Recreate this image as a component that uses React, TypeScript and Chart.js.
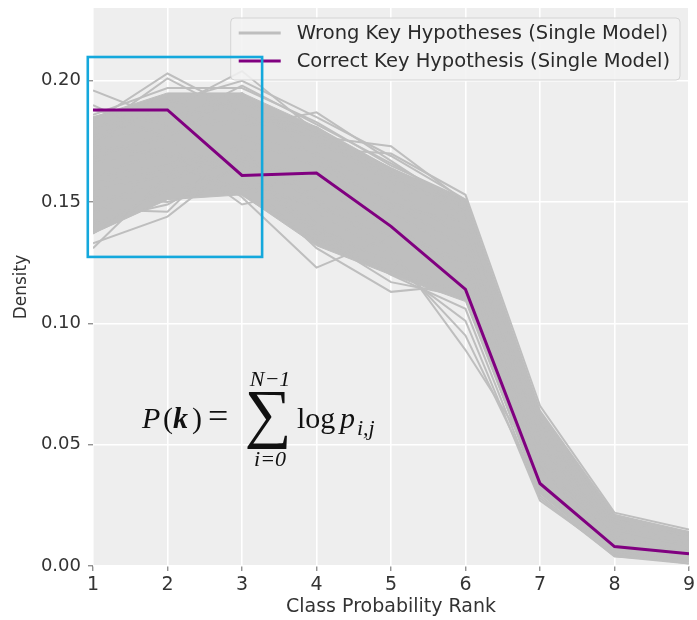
import React, { useEffect, useRef } from "react";
import { Chart, registerables } from "chart.js";

Chart.register(...registerables);

// ---------- data ----------
const ranks = [1, 2, 3, 4, 5, 6, 7, 8, 9];
const yTicks = [0, 0.05, 0.1, 0.15, 0.2];
const xTitle = "Class Probability Rank";
const yTitle = "Density";
const legendLabels = [
  "Wrong Key Hypotheses (Single Model)",
  "Correct Key Hypothesis (Single Model)",
];

const correctKey = [0.188, 0.188, 0.161, 0.162, 0.14, 0.114, 0.034, 0.008, 0.005];

// dense core of the wrong-key bundle
const bandUpper = [0.185, 0.195, 0.195, 0.181, 0.164, 0.151, 0.063, 0.021, 0.014];
const bandLower = [0.137, 0.151, 0.153, 0.132, 0.12, 0.109, 0.03, 0.004, 0.002];

// individual wrong-key hypotheses
const w01 = [0.196, 0.184, 0.191, 0.178, 0.16, 0.146, 0.055, 0.018, 0.011];
const w02 = [0.183, 0.203, 0.187, 0.176, 0.158, 0.141, 0.05, 0.015, 0.008];
const w03 = [0.179, 0.201, 0.185, 0.181, 0.161, 0.148, 0.058, 0.02, 0.012];
const w04 = [0.177, 0.188, 0.204, 0.179, 0.164, 0.149, 0.06, 0.019, 0.011];
const w05 = [0.174, 0.191, 0.2, 0.185, 0.169, 0.151, 0.062, 0.021, 0.013];
const w06 = [0.147, 0.146, 0.176, 0.165, 0.15, 0.131, 0.045, 0.012, 0.006];
const w07 = [0.131, 0.161, 0.171, 0.151, 0.139, 0.125, 0.04, 0.01, 0.005];
const w08 = [0.133, 0.144, 0.168, 0.16, 0.146, 0.128, 0.042, 0.011, 0.005];
const w09 = [0.161, 0.171, 0.149, 0.156, 0.141, 0.121, 0.036, 0.008, 0.004];
const w10 = [0.166, 0.173, 0.152, 0.123, 0.136, 0.118, 0.033, 0.007, 0.003];
const w11 = [0.171, 0.176, 0.16, 0.131, 0.113, 0.116, 0.032, 0.006, 0.003];
const w12 = [0.173, 0.169, 0.163, 0.136, 0.117, 0.111, 0.03, 0.005, 0.002];
const w13 = [0.176, 0.181, 0.181, 0.187, 0.167, 0.147, 0.057, 0.019, 0.012];
const w14 = [0.168, 0.179, 0.184, 0.177, 0.173, 0.15, 0.063, 0.02, 0.013];
const w15 = [0.16, 0.166, 0.171, 0.172, 0.17, 0.153, 0.066, 0.022, 0.015];
const w16 = [0.155, 0.161, 0.166, 0.15, 0.131, 0.089, 0.041, 0.01, 0.004];
const w17 = [0.158, 0.163, 0.169, 0.146, 0.128, 0.095, 0.031, 0.006, 0.002];
const w18 = [0.15, 0.158, 0.172, 0.141, 0.124, 0.101, 0.027, 0.005, 0.001];
const w19 = [0.14, 0.155, 0.163, 0.138, 0.12, 0.106, 0.028, 0.004, 0.002];
const w20 = [0.185, 0.193, 0.178, 0.17, 0.155, 0.135, 0.048, 0.014, 0.009];
const w21 = [0.145, 0.166, 0.155, 0.16, 0.151, 0.138, 0.052, 0.016, 0.01];
const w22 = [0.19, 0.176, 0.195, 0.168, 0.148, 0.142, 0.054, 0.017, 0.012];
const w23 = [0.152, 0.15, 0.158, 0.148, 0.136, 0.125, 0.044, 0.012, 0.006];
const w24 = [0.186, 0.197, 0.197, 0.183, 0.165, 0.151, 0.064, 0.021, 0.014];
const w25 = [0.137, 0.157, 0.153, 0.134, 0.122, 0.112, 0.029, 0.004, 0.001];
const w26 = [0.181, 0.186, 0.192, 0.174, 0.162, 0.144, 0.059, 0.018, 0.014];
const w27 = [0.188, 0.182, 0.198, 0.182, 0.166, 0.149, 0.061, 0.02, 0.013];
const w28 = [0.142, 0.149, 0.166, 0.139, 0.125, 0.113, 0.035, 0.006, 0.003];

const wrongKeys = [
  w01, w02, w03, w04, w05, w06, w07, w08, w09, w10, w11, w12, w13, w14,
  w15, w16, w17, w18, w19, w20, w21, w22, w23, w24, w25, w26, w27, w28,
];

// highlighted region (data coordinates)
const focusX = [0.93, 3.27];
const focusY = [0.1274, 0.2098];

const WRONG = "#bebebe";
const RIGHT = "#800080";
const BG = "#eeeeee";
const SERIF = '"Liberation Serif"';

const toXY = (vals: number[]) => vals.map((v, i) => ({ x: ranks[i], y: v }));

const bgPlugin = {
  id: "plotBg",
  beforeDraw(chart: any) {
    const { ctx, chartArea: a } = chart;
    ctx.save();
    ctx.fillStyle = "#ffffff";
    ctx.fillRect(0, 0, chart.width, chart.height);
    ctx.fillStyle = BG;
    ctx.fillRect(a.left, a.top, a.right - a.left, a.bottom - a.top);
    ctx.restore();
  },
};

const overlayPlugin = {
  id: "overlay",
  afterDraw(chart: any) {
    const { ctx, chartArea: a } = chart;
    const xs = chart.scales.x;
    const ys = chart.scales.y;
    ctx.save();

    // legend
    ctx.font = '19.5px "DejaVu Sans"';
    const textW = Math.max(...legendLabels.map((t) => ctx.measureText(t).width));
    const sampleLen = 42;
    const padL = 8;
    const gap = 16;
    const padR = 10;
    const boxW = padL + sampleLen + gap + textW + padR;
    const boxH = 62;
    const boxRight = a.right - 9;
    const boxTop = a.top + 10;
    const boxLeft = boxRight - boxW;
    ctx.beginPath();
    const r = 4;
    ctx.moveTo(boxLeft + r, boxTop);
    ctx.lineTo(boxRight - r, boxTop);
    ctx.quadraticCurveTo(boxRight, boxTop, boxRight, boxTop + r);
    ctx.lineTo(boxRight, boxTop + boxH - r);
    ctx.quadraticCurveTo(boxRight, boxTop + boxH, boxRight - r, boxTop + boxH);
    ctx.lineTo(boxLeft + r, boxTop + boxH);
    ctx.quadraticCurveTo(boxLeft, boxTop + boxH, boxLeft, boxTop + boxH - r);
    ctx.lineTo(boxLeft, boxTop + r);
    ctx.quadraticCurveTo(boxLeft, boxTop, boxLeft + r, boxTop);
    ctx.closePath();
    ctx.fillStyle = "rgba(242,242,242,0.85)";
    ctx.fill();
    ctx.strokeStyle = "#d4d4d4";
    ctx.lineWidth = 1;
    ctx.stroke();

    const rows = [boxTop + 15, boxTop + 43];
    const colors = [WRONG, RIGHT];
    rows.forEach((yy, i) => {
      ctx.strokeStyle = colors[i];
      ctx.lineWidth = 3;
      ctx.beginPath();
      ctx.moveTo(boxLeft + padL, yy);
      ctx.lineTo(boxLeft + padL + sampleLen, yy);
      ctx.stroke();
      ctx.fillStyle = "#2a2a2a";
      ctx.textBaseline = "middle";
      ctx.textAlign = "left";
      ctx.fillText(legendLabels[i], boxLeft + padL + sampleLen + gap, yy + 1);
    });

    // highlight box
    const bx0 = xs.getPixelForValue(focusX[0]);
    const bx1 = xs.getPixelForValue(focusX[1]);
    const by0 = ys.getPixelForValue(focusY[1]);
    const by1 = ys.getPixelForValue(focusY[0]);
    ctx.strokeStyle = "#14a8dc";
    ctx.lineWidth = 2.6;
    ctx.strokeRect(bx0, by0, bx1 - bx0, by1 - by0);

    // formula
    ctx.fillStyle = "#111111";
    ctx.textBaseline = "alphabetic";
    ctx.textAlign = "left";
    const base = 428;
    const fs = 30;
    const put = (t: string, f: string, x: number, y: number) => {
      ctx.font = f;
      ctx.fillText(t, x, y);
    };
    put("P", `italic ${fs}px ${SERIF}`, 142, base);
    put("(", `${fs}px ${SERIF}`, 163, base);
    put("k", `bold italic ${fs}px ${SERIF}`, 173, base);
    put(")", `${fs}px ${SERIF}`, 192, base);
    put("=", `${fs + 6}px ${SERIF}`, 208, base);

    ctx.textAlign = "center";
    put("\u2211", `66px ${SERIF}`, 268, 435);
    put("N\u22121", `italic 22px ${SERIF}`, 270, 386);
    put("i=0", `italic 22px ${SERIF}`, 270, 466);

    ctx.textAlign = "left";
    put("log", `${fs}px ${SERIF}`, 297, base);
    put("p", `italic ${fs}px ${SERIF}`, 340, base);
    put("i,j", `italic 22px ${SERIF}`, 357, base + 7);

    ctx.restore();
  },
};

export default function App() {
  const ref = useRef<HTMLCanvasElement | null>(null);

  useEffect(() => {
    document.body.style.margin = "0";
    if (!ref.current) return;

    const datasets: any[] = [];
    datasets.push({
      label: legendLabels[1],
      data: toXY(correctKey),
      borderColor: RIGHT,
      borderWidth: 3,
      pointRadius: 0,
      fill: false,
      tension: 0,
    });
    wrongKeys.forEach((w) => {
      datasets.push({
        label: legendLabels[0],
        data: toXY(w),
        borderColor: WRONG,
        borderWidth: 2,
        pointRadius: 0,
        fill: false,
        tension: 0,
      });
    });
    datasets.push({
      label: "core-low",
      data: toXY(bandLower),
      borderColor: WRONG,
      borderWidth: 1,
      pointRadius: 0,
      fill: false,
    });
    datasets.push({
      label: "core-high",
      data: toXY(bandUpper),
      borderColor: WRONG,
      borderWidth: 1,
      backgroundColor: WRONG,
      pointRadius: 0,
      fill: "-1",
    });

    const chart = new Chart(ref.current, {
      type: "line",
      data: { datasets },
      plugins: [bgPlugin, overlayPlugin],
      options: {
        animation: false,
        responsive: false,
        events: [],
        layout: { padding: { left: 0, right: 8, top: 8, bottom: 0 } },
        plugins: {
          legend: { display: false },
          tooltip: { enabled: false },
        },
        scales: {
          x: {
            type: "linear",
            min: 1,
            max: 9,
            afterFit: (s: any) => {
              s.height = 54;
              s.paddingLeft = 0;
              s.paddingRight = 0;
            },
            afterBuildTicks: (s: any) => {
              s.ticks = ranks.map((v) => ({ value: v }));
            },
            ticks: {
              color: "#333333",
              font: { family: "DejaVu Sans", size: 19 },
              padding: 3,
              maxRotation: 0,
              callback: (v: any) => String(v),
            },
            grid: {
              color: "#ffffff",
              lineWidth: 1.6,
              tickColor: "#666666",
              tickLength: 5,
              tickWidth: 1,
            },
            border: { display: false },
            title: {
              display: true,
              text: xTitle,
              color: "#333333",
              font: { family: "DejaVu Sans", size: 19 },
              padding: { top: 0, bottom: 2 },
            },
          },
          y: {
            type: "linear",
            min: 0,
            max: 0.23,
            afterFit: (s: any) => {
              s.width = 93;
              s.paddingTop = 0;
              s.paddingBottom = 0;
            },
            afterBuildTicks: (s: any) => {
              s.ticks = yTicks.map((v) => ({ value: v }));
            },
            ticks: {
              color: "#333333",
              font: { family: "DejaVu Sans", size: 18 },
              padding: 7,
              callback: (v: any) => Number(v).toFixed(2),
            },
            grid: {
              color: "#ffffff",
              lineWidth: 1.6,
              tickColor: "#666666",
              tickLength: 5,
              tickWidth: 1,
            },
            border: { display: false },
            title: {
              display: true,
              text: yTitle,
              color: "#333333",
              font: { family: "DejaVu Sans", size: 17 },
              padding: { top: 11, bottom: 0 },
            },
          },
        },
      },
    });
    return () => chart.destroy();
  }, []);

  return (
    <div style={{ width: 697, height: 620 }}>
      <canvas ref={ref} width={697} height={620} style={{ display: "block" }} />
    </div>
  );
}
